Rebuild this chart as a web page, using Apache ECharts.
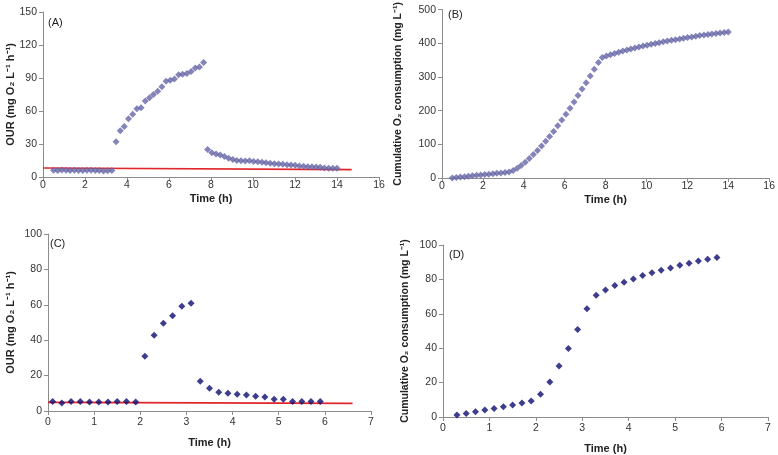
<!DOCTYPE html>
<html>
<head>
<meta charset="utf-8">
<script src="https://cdn.jsdelivr.net/npm/echarts@6/dist/echarts.min.js"></script>
<style>
html, body { margin: 0; padding: 0; background: #fff; }
#main { width: 778px; height: 455px; }
</style>
</head>
<body>
<div id="main"></div>
<script>
// run 1 (A, B): sampling times, h
var timesAB = [0.50, 0.70, 0.90, 1.10, 1.29, 1.49, 1.69, 1.89, 2.09, 2.29, 2.49, 2.68, 2.88, 3.08, 3.28,
    3.48, 3.68, 3.87, 4.07, 4.27, 4.47, 4.67, 4.87, 5.07, 5.26, 5.46, 5.66, 5.86, 6.06, 6.26, 6.46, 6.65,
    6.85, 7.05, 7.25, 7.45, 7.65,
    7.84, 8.04, 8.24, 8.44, 8.64, 8.84, 9.04, 9.23, 9.43, 9.63, 9.83, 10.03, 10.23, 10.43, 10.62, 10.82,
    11.02, 11.22, 11.42, 11.62, 11.81, 12.01, 12.21, 12.41, 12.61, 12.81, 13.01, 13.20, 13.40, 13.60, 13.80, 14.00];
var ourA = [6.2, 6, 6.3, 6.1, 6, 6.2, 6, 5.8, 6.1, 6.2, 6, 5.9, 5.5, 5.7, 6,
    32, 42, 46, 53, 57, 62, 63, 69, 72, 75, 78, 82, 87, 88, 89, 93, 93.5, 94, 96, 99, 100, 104,
    25, 22, 21, 20, 18.7, 17, 16, 15, 14.8, 14.5, 14.8, 14.2, 13.9, 13.3, 13, 12.4, 12, 11.8, 11.5, 11.2,
    10.9, 10.6, 10, 9.7, 9.4, 9.4, 9, 8.8, 8.2, 7.9, 7.9, 7.9];
var cumB = [0, 1.3, 2.6, 3.9, 5.2, 6.5, 7.8, 9, 10.3, 11.5, 12.8, 14, 15.2, 16.5, 18,
    22, 29, 37, 47, 58, 70, 82, 95, 109, 123, 138, 155, 172, 189, 207, 226, 245, 264, 283, 303, 323, 343,
    358, 362, 366, 370, 373.5, 377, 380, 383, 386, 389, 392, 394.5, 397, 399.5, 402, 404.5, 407, 409, 411,
    413, 415, 417, 419, 421, 423, 424.5, 426, 427.5, 429, 430.5, 432, 433.5];
var baseA = [[0, 8.2], [14.7, 6.7]];

// run 2 (C, D)
var timesC = [0.1, 0.3, 0.5, 0.7, 0.9, 1.1, 1.3, 1.5, 1.7, 1.9, 2.1, 2.3, 2.5, 2.7, 2.9, 3.1,
    3.3, 3.5, 3.7, 3.9, 4.1, 4.3, 4.5, 4.7, 4.9, 5.1, 5.3, 5.5, 5.7, 5.9];
var ourC = [5.3, 4.5, 5.3, 5.3, 5.1, 5.1, 5.1, 5.3, 5.3, 5.1, 31, 42.8, 49.6, 53.8, 59.2, 60.9,
    16.8, 12.8, 10.6, 10, 9.4, 9, 8.3, 7.9, 6.6, 6.6, 5.3, 5.3, 5.3, 5.3];
var baseC = [[0, 4.9], [6.6, 4.3]];
var timesD = [0.3, 0.5, 0.7, 0.9, 1.1, 1.3, 1.5, 1.7, 1.9, 2.1, 2.3, 2.5, 2.7, 2.9, 3.1,
    3.3, 3.5, 3.7, 3.9, 4.1, 4.3, 4.5, 4.7, 4.9, 5.1, 5.3, 5.5, 5.7, 5.9];
var cumD = [1.2, 2.1, 3.1, 4.1, 5, 6, 7, 8.1, 9.3, 13.2, 20.3, 29.6, 39.8, 50.9, 63,
    70.8, 73.9, 76.4, 78.3, 80.3, 82.2, 83.8, 85.3, 86.7, 88.2, 89.4, 90.7, 91.7, 92.8];

var ourName = 'OUR (mg O\u2082 L\u207B\u00B9 h\u207B\u00B9)';
var cumName = 'Cumulative O\u2082 consumption (mg L\u207B\u00B9)';

function pairs(xs, ys) {
    return xs.map(function (x, i) { return [x, ys[i]]; });
}

var FONT = 'Liberation Sans';
var GREY = '#8c8c8c';
// excel style diamond, as wide as tall
var DIAMOND = 'path://M0,-10 L10,0 L0,10 L-10,0 Z';

function xAxis(idx, max, interval, gap, margin) {
    return {
        type: 'value', gridIndex: idx, min: 0, max: max, interval: interval,
        name: 'Time (h)', nameLocation: 'middle', nameGap: gap, nameMoveOverlap: false,
        nameTextStyle: { fontFamily: FONT, fontWeight: 'bold', fontSize: 11, color: '#222' },
        axisLine: { lineStyle: { color: GREY, width: 1 } },
        axisTick: { show: true, length: 4, lineStyle: { color: GREY } },
        axisLabel: { fontFamily: FONT, fontSize: 10.5, color: '#333', margin: margin },
        splitLine: { show: false }
    };
}
function yAxis(idx, max, interval, name, gap, fs) {
    return {
        type: 'value', gridIndex: idx, min: 0, max: max, interval: interval,
        name: name, nameLocation: 'middle', nameGap: gap, nameMoveOverlap: false,
        nameTextStyle: { fontFamily: FONT, fontWeight: 'bold', fontSize: fs, color: '#222' },
        axisLine: { show: true, lineStyle: { color: GREY, width: 1 } },
        axisTick: { show: true, length: 4, lineStyle: { color: GREY } },
        axisLabel: { fontFamily: FONT, fontSize: 10.5, color: '#333', margin: 6 },
        splitLine: { show: false }
    };
}

var purple = '#6565a6';
var navy = '#0c0c70';
var red = '#e0262a';

var dom = document.getElementById('main');
var myChart = echarts.init(dom);
var option = {
    animation: false,
    backgroundColor: '#fff',
    grid: [
        { left: 43, top: 12, width: 336, height: 165 },
        { left: 442, top: 6, width: 329, height: 172 },
        { left: 48, top: 234, width: 323, height: 177 },
        { left: 443, top: 245, width: 325, height: 172 }
    ],
    xAxis: [
        xAxis(0, 16, 2, 16, 3),
        xAxis(1, 16, 2, 16, 3),
        xAxis(2, 7, 1, 26, 6),
        xAxis(3, 7, 1, 26, 6)
    ],
    yAxis: [
        yAxis(0, 150, 30, ourName, 27, 11),
        yAxis(1, 500, 100, cumName, 38, 10.5),
        yAxis(2, 100, 20, ourName, 32, 11),
        yAxis(3, 100, 20, cumName, 32, 10.5)
    ],
    graphic: [
        { type: 'text', left: 48, top: 17, style: { text: '(A)', font: '11px "Liberation Sans"', fill: '#222' } },
        { type: 'text', left: 448, top: 9, style: { text: '(B)', font: '11px "Liberation Sans"', fill: '#222' } },
        { type: 'text', left: 50, top: 238, style: { text: '(C)', font: '11px "Liberation Sans"', fill: '#222' } },
        { type: 'text', left: 449, top: 249, style: { text: '(D)', font: '11px "Liberation Sans"', fill: '#222' } }
    ],
    series: [
        {
            type: 'line', xAxisIndex: 0, yAxisIndex: 0, data: baseA, symbol: 'none',
            lineStyle: { color: red, width: 1.6 }, z: 1
        },
        {
            type: 'scatter', xAxisIndex: 0, yAxisIndex: 0, data: pairs(timesAB, ourA),
            symbol: DIAMOND, symbolSize: 7, itemStyle: { color: purple }, z: 2
        },
        {
            type: 'scatter', xAxisIndex: 1, yAxisIndex: 1, data: pairs(timesAB, cumB),
            symbol: DIAMOND, symbolSize: 7, itemStyle: { color: purple }
        },
        {
            type: 'line', xAxisIndex: 2, yAxisIndex: 2, data: baseC, symbol: 'none',
            lineStyle: { color: red, width: 1.6 }, z: 1
        },
        {
            type: 'scatter', xAxisIndex: 2, yAxisIndex: 2, data: pairs(timesC, ourC),
            symbol: DIAMOND, symbolSize: 7, itemStyle: { color: navy }, z: 2
        },
        {
            type: 'scatter', xAxisIndex: 3, yAxisIndex: 3, data: pairs(timesD, cumD),
            symbol: DIAMOND, symbolSize: 7, itemStyle: { color: navy }
        }
    ]
};
myChart.setOption(option, true);
</script>
</body>
</html>
